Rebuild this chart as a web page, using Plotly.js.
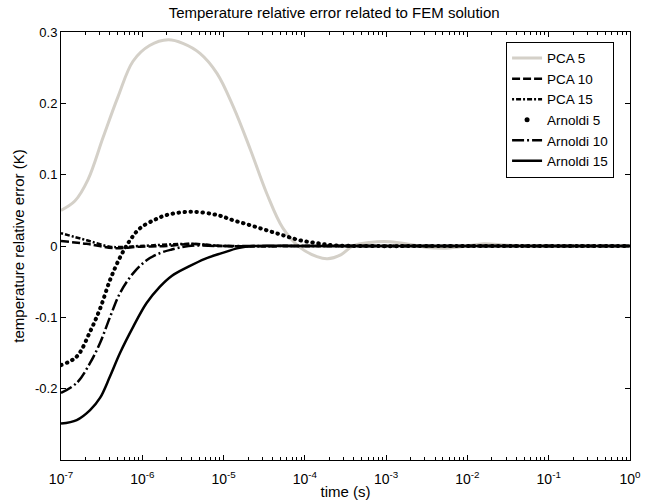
<!DOCTYPE html>
<html>
<head>
<meta charset="utf-8">
<script src="https://cdn.plot.ly/plotly-3.0.1.min.js"></script>
<style>
html,body{margin:0;padding:0;background:#fff;}
#chart{width:665px;height:502px;}
</style>
</head>
<body>
<div id="chart"></div>
<script>
// ---- data ----
const pca5_t = [1e-7, 1.48e-7, 2.15e-7, 3.29e-7, 5.02e-7, 7.69e-7, 1.23e-6, 2.09e-6, 3.16e-6, 5.13e-6, 8.3e-6, 1.32e-5, 2.14e-5, 3.39e-5, 5.37e-5, 8.7e-5, 1.41e-4, 1.9e-4, 2.8e-4, 3.9e-4, 6.3e-4, 1.12e-3, 2.0e-3, 3.16e-3, 5.5e-3, 1e-2, 1.58e-2, 3.16e-2, 1e-1, 1];
const pca5_v = [0.050, 0.063, 0.093, 0.152, 0.209, 0.259, 0.281, 0.289, 0.284, 0.270, 0.242, 0.195, 0.135, 0.074, 0.025, -0.002, -0.015, -0.018, -0.012, 0.000, 0.005, 0.006, 0.002, -0.002, -0.003, 0.000, 0.003, 0.001, 0, 0];

const pca10_t = [1e-7, 2.07e-7, 4.6e-7, 9.4e-7, 2e-6, 3.9e-6, 1e-5, 1e-4, 1e-2, 1];
const pca10_v = [0.007, 0.003, -0.003, -0.001, 0.000, 0.003, 0.000, 0, 0, 0];

const pca15_t = [1e-7, 2.07e-7, 4.0e-7, 5.32e-7, 9.4e-7, 3.9e-6, 1e-5, 1e-4, 1e-2, 1];
const pca15_v = [0.018, 0.008, -0.001, -0.0015, 0.000, 0.003, 0.000, 0, 0, 0];

const arn5_t = [1e-7, 1.56e-7, 2.28e-7, 3.02e-7, 4.0e-7, 5.32e-7, 7.06e-7, 9.4e-7, 1.5e-6, 2.0e-6, 3.9e-6, 8.3e-6, 1.32e-5, 2.14e-5, 3.39e-5, 5.37e-5, 8.7e-5, 1.41e-4, 2.24e-4, 5e-4, 1e-2, 1];
const arn5_v = [-0.167, -0.155, -0.120, -0.088, -0.048, -0.016, 0.008, 0.025, 0.038, 0.0435, 0.048, 0.0435, 0.036, 0.029, 0.022, 0.015, 0.008, 0.004, 0.001, 0, 0, 0];

const arn10_t = [1e-7, 1.56e-7, 2.28e-7, 3.02e-7, 4.0e-7, 5.32e-7, 7.75e-7, 1.13e-6, 1.65e-6, 2.3e-6, 3.7e-6, 1e-5, 1e-3, 1];
const arn10_v = [-0.206, -0.192, -0.164, -0.136, -0.100, -0.066, -0.038, -0.020, -0.010, -0.005, 0.000, 0, 0, 0];

const arn15_t = [1e-7, 1.56e-7, 2.28e-7, 3.02e-7, 4.0e-7, 5.32e-7, 7.75e-7, 1.13e-6, 1.65e-6, 2.3e-6, 3.7e-6, 5.9e-6, 9.5e-6, 1.51e-5, 2.24e-5, 1e-4, 1e-2, 1];
const arn15_v = [-0.249, -0.244, -0.230, -0.213, -0.183, -0.150, -0.113, -0.080, -0.057, -0.042, -0.029, -0.018, -0.010, -0.003, 0.000, 0, 0, 0];

const xTickVals = [1e-7, 1e-6, 1e-5, 1e-4, 1e-3, 1e-2, 1e-1, 1];
const xTickText = ['10<sup>-7</sup>', '10<sup>-6</sup>', '10<sup>-5</sup>', '10<sup>-4</sup>', '10<sup>-3</sup>', '10<sup>-2</sup>', '10<sup>-1</sup>', '10<sup>0</sup>'];
const yTickVals = [-0.2, -0.1, 0, 0.1, 0.2, 0.3];
const yTickText = ['-0.2', '-0.1', '0', '0.1', '0.2', '0.3'];

const FONT = 'Liberation Sans, Arial, sans-serif';
const SM = 1.0;

const traces = [
  {x: pca5_t, y: pca5_v, name: 'PCA 5', mode: 'lines',
   line: {color: '#d4d0c8', width: 3, shape: 'spline', smoothing: SM}},
  {x: pca10_t, y: pca10_v, name: 'PCA 10', mode: 'lines',
   line: {color: '#000', width: 2.5, dash: '8px,3px', shape: 'spline', smoothing: SM}},
  {x: pca15_t, y: pca15_v, name: 'PCA 15', mode: 'lines',
   line: {color: '#000', width: 2.5, dash: '2px,2px,5px,2px', shape: 'spline', smoothing: SM}},
  {x: arn5_t, y: arn5_v, name: 'Arnoldi 5', mode: 'lines', showlegend: false,
   line: {color: '#000', width: 4, dash: '0.5px,5.5px', shape: 'spline', smoothing: SM}},
  {x: [null], y: [null], name: 'Arnoldi 5', mode: 'markers',
   marker: {color: '#000', size: 5}},
  {x: arn10_t, y: arn10_v, name: 'Arnoldi 10', mode: 'lines',
   line: {color: '#000', width: 2.5, dash: '12px,3px,2px,3px', shape: 'spline', smoothing: SM}},
  {x: arn15_t, y: arn15_v, name: 'Arnoldi 15', mode: 'lines',
   line: {color: '#000', width: 2.5, shape: 'spline', smoothing: SM}}
];

const layout = {
  width: 665, height: 502,
  margin: {l: 61, r: 35, t: 32, b: 42},
  paper_bgcolor: '#fff', plot_bgcolor: '#fff',
  font: {family: FONT, size: 13, color: '#000'},
  title: {text: 'Temperature relative error related to FEM solution',
          font: {family: FONT, size: 15, color: '#000'},
          x: 0.48, xref: 'paper', xanchor: 'center', y: 0.975, yref: 'container', yanchor: 'middle'},
  showlegend: true,
  legend: {x: 0.972, xanchor: 'right', y: 0.977, yanchor: 'top',
           bordercolor: '#000', borderwidth: 1, bgcolor: '#fff',
           font: {family: FONT, size: 13.5, color: '#000'},
           tracegroupgap: 0, itemwidth: 30},
  xaxis: {
    type: 'log', range: [-7, 0],
    tickmode: 'array', tickvals: xTickVals, ticktext: xTickText,
    ticks: 'inside', ticklen: 5, tickcolor: '#000', tickwidth: 1,
    minor: {ticks: 'inside', ticklen: 3, dtick: 'D1', tickcolor: '#000', showgrid: false},
    showline: true, linecolor: '#000', linewidth: 1, mirror: 'ticks',
    showgrid: false, zeroline: false,
    ticklabelstandoff: 6,
    tickfont: {family: FONT, size: 14, color: '#000'},
    title: {text: 'time (s)', font: {family: FONT, size: 15, color: '#000'}, standoff: 0}
  },
  yaxis: {
    range: [-0.3, 0.3],
    tickmode: 'array', tickvals: yTickVals, ticktext: yTickText,
    ticks: 'inside', ticklen: 5, tickcolor: '#000', tickwidth: 1,
    showline: true, linecolor: '#000', linewidth: 1, mirror: 'ticks',
    showgrid: false, zeroline: false,
    tickfont: {family: FONT, size: 13, color: '#000'},
    title: {text: 'temperature relative error (K)', font: {family: FONT, size: 15, color: '#000'}, standoff: 6}
  }
};

Plotly.newPlot('chart', traces, layout, {displayModeBar: false, staticPlot: true}).then(function (gd) {
  // round caps so the Arnoldi 5 dash pattern is drawn as round dots
  const tr = gd.querySelectorAll('.scatterlayer .trace');
  if (tr[3]) {
    const p = tr[3].querySelector('path.js-line');
    if (p) p.style.strokeLinecap = 'round';
  }
});
</script>
</body>
</html>
